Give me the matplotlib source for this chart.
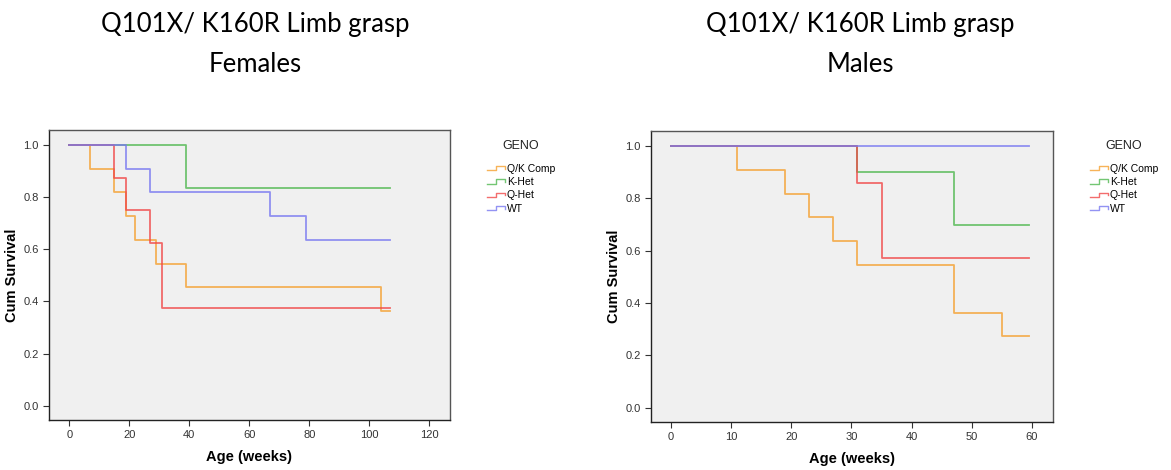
import matplotlib.pyplot as plt
from matplotlib.legend_handler import HandlerBase
from matplotlib.lines import Line2D

# group names and colours
groups = ["Q/K Comp", "K-Het", "Q-Het", "WT"]
colors = ["#F5A030", "#50B850", "#F04848", "#7878F0"]

# Females: step times (weeks) and survival after each step
fem_t = {
    "Q/K Comp": [0, 7, 15, 19, 22, 29, 39, 104, 107],
    "K-Het": [0, 39, 107],
    "Q-Het": [0, 15, 19, 27, 31, 107],
    "WT": [0, 19, 27, 67, 79, 107],
}
fem_s = {
    "Q/K Comp": [1.0, 0.909, 0.818, 0.727, 0.636, 0.545, 0.455, 0.364, 0.364],
    "K-Het": [1.0, 0.833, 0.833],
    "Q-Het": [1.0, 0.875, 0.75, 0.625, 0.375, 0.375],
    "WT": [1.0, 0.909, 0.818, 0.727, 0.636, 0.636],
}

# Males
mal_t = {
    "Q/K Comp": [0, 11, 19, 23, 27, 31, 47, 55, 59.5],
    "K-Het": [0, 31, 47, 59.5],
    "Q-Het": [0, 31, 35, 59.5],
    "WT": [0, 59.5],
}
mal_s = {
    "Q/K Comp": [1.0, 0.909, 0.818, 0.727, 0.636, 0.545, 0.364, 0.273, 0.273],
    "K-Het": [1.0, 0.9, 0.7, 0.7],
    "Q-Het": [1.0, 0.857, 0.571, 0.571],
    "WT": [1.0, 1.0],
}

fem_xticks = [0, 20, 40, 60, 80, 100, 120]
mal_xticks = [0, 10, 20, 30, 40, 50, 60]
yticks = [0.0, 0.2, 0.4, 0.6, 0.8, 1.0]

plt.rcParams["font.family"] = ["Liberation Sans", "DejaVu Sans"]


class StepHandler(HandlerBase):
    # little step symbol like the SPSS legend
    def create_artists(self, legend, orig_handle, xdescent, ydescent,
                       width, height, fontsize, trans):
        xs = [0, 0.5 * width, 0.5 * width, width, width]
        ys = [0.15 * height, 0.15 * height, 0.75 * height, 0.75 * height, 0.4 * height]
        ln = Line2D(xs, ys, color=orig_handle.get_color(), lw=1.0,
                    alpha=0.8, transform=trans)
        return [ln]


fig = plt.figure(figsize=(11.71, 4.70), dpi=100)


def panel(rect, times, surv, xlim, xticks, sex, title_x, leg_x, geno_x):
    ax = fig.add_axes(rect)
    ax.set_facecolor("#F0F0F0")
    handles = []
    for g, c in zip(groups, colors):
        h, = ax.step(times[g], surv[g], where="post", color=c, lw=1.3, alpha=0.8)
        handles.append(h)
    ax.set_xlim(*xlim)
    ax.set_ylim(-0.054, 1.057)
    ax.set_xticks(xticks)
    ax.set_yticks(yticks)
    ax.set_yticklabels([f"{v:.1f}" for v in yticks])
    ax.tick_params(labelsize=8, length=4, width=0.8, colors="#333333")
    for sp in ax.spines.values():
        sp.set_color("#555555")
        sp.set_linewidth(1.0)
    ax.spines["left"].set_color("#222222")
    ax.spines["bottom"].set_color("#222222")
    ax.set_xlabel("Age (weeks)", fontsize=10.5, fontweight="bold", labelpad=7)
    ax.set_ylabel("Cum Survival", fontsize=10.5, fontweight="bold", labelpad=3)
    fig.text(title_x, 0.932, "Q101X/ K160R Limb grasp", ha="center", va="baseline",
             fontsize=18.5, family="Lato")
    fig.text(title_x, 0.847, sex, ha="center", va="baseline",
             fontsize=18.5, family="Lato")
    fig.text(geno_x, 0.69, "GENO", ha="center", va="center", fontsize=9, color="#222222")
    fig.legend(handles, groups, loc="upper left", bbox_to_anchor=(leg_x, 0.652),
               frameon=False, fontsize=7.5, borderpad=0, borderaxespad=0,
               handler_map={Line2D: StepHandler()}, handlelength=1.7,
               handletextpad=0.2, labelspacing=0.32)
    return ax


panel([0.0418, 0.1064, 0.3425, 0.617], fem_t, fem_s, (-6.8, 126.9),
      fem_xticks, "Females", 0.2178, 0.4159, 0.445)
panel([0.556, 0.1021, 0.3433, 0.619], mal_t, mal_s, (-3.3, 63.5),
      mal_xticks, "Males", 0.7344, 0.9308, 0.96)

plt.savefig("out.png", dpi=100)
